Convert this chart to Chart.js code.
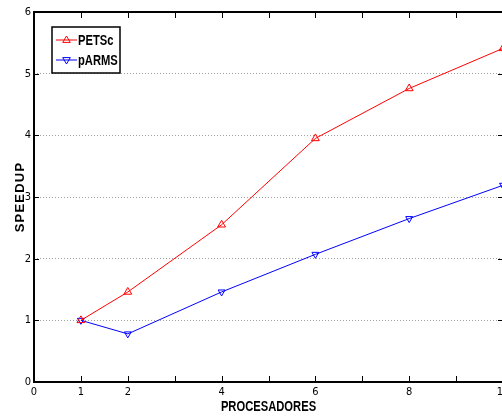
<!DOCTYPE html>
<html>
<head>
<meta charset="utf-8">
<script src="https://cdn.jsdelivr.net/npm/chart.js@4"></script>
<style>
  html, body { margin: 0; padding: 0; background: #fff; overflow: hidden; }
  #wrap { position: absolute; left: 0; top: 0; width: 520px; height: 417px; }
</style>
</head>
<body>
<div id="wrap"><canvas id="speedup" width="520" height="417"></canvas></div>
<script>
const procesadores = [1, 2, 4, 6, 8, 10];
const petsc = [1.0, 1.46, 2.55, 3.95, 4.76, 5.41];
const parms = [1.0, 0.78, 1.46, 2.07, 2.65, 3.19];
const xTickLabels = [0, 1, 2, 4, 6, 8, 10];
const yTickLabels = [0, 1, 2, 3, 4, 5, 6];

const narrow = "'Liberation Sans Narrow', 'DejaVu Sans Condensed', sans-serif";
const helv = "'Liberation Sans', Arial, sans-serif";

function triangle(ctx, x, y, r, down) {
    const s = down ? -1 : 1;
    ctx.beginPath();
    ctx.moveTo(x, y - s * r);
    ctx.lineTo(x - r * 0.95, y + s * r * 0.6);
    ctx.lineTo(x + r * 0.95, y + s * r * 0.6);
    ctx.closePath();
    ctx.stroke();
}

// squeezed bold text, the figure uses a narrow helvetica
function narrowText(ctx, txt, x, y, size, align, sx) {
    ctx.save();
    ctx.translate(x, y);
    ctx.scale(sx, 1);
    ctx.font = 'bold ' + size + 'px ' + helv;
    ctx.textAlign = align;
    ctx.textBaseline = 'middle';
    ctx.fillStyle = '#000';
    ctx.fillText(txt, 0, 0);
    ctx.restore();
}

// frame, inward tick marks, axis titles and boxed legend, like the matlab figure
const framePlugin = {
    id: 'frame',
    afterDraw(chart) {
        const ctx = chart.ctx;
        const a = chart.chartArea;
        const xs = chart.scales.x, ys = chart.scales.y;
        ctx.save();
        ctx.strokeStyle = '#000';
        ctx.lineWidth = 1;
        xs.ticks.forEach(t => {
            const px = Math.round(xs.getPixelForValue(t.value)) + 0.5;
            ctx.beginPath();
            ctx.moveTo(px, a.bottom); ctx.lineTo(px, a.bottom - 6);
            ctx.moveTo(px, a.top); ctx.lineTo(px, a.top + 6);
            ctx.stroke();
        });
        ys.ticks.forEach(t => {
            const py = Math.round(ys.getPixelForValue(t.value)) + 0.5;
            ctx.beginPath();
            ctx.moveTo(a.left, py); ctx.lineTo(a.left + 5, py);
            ctx.moveTo(a.right, py); ctx.lineTo(a.right - 5, py);
            ctx.stroke();
        });
        ctx.lineWidth = 2;
        ctx.strokeRect(a.left, a.top, a.right - a.left, a.bottom - a.top);

        // axis titles
        narrowText(ctx, xs.options.title.text, (a.left + a.right) / 2, 407, 14, 'center', 0.8);
        ctx.save();
        ctx.translate(20, (a.top + a.bottom) / 2);
        ctx.rotate(-Math.PI / 2);
        ctx.font = 'bold 13px ' + helv;
        ctx.letterSpacing = '1.2px';
        ctx.textAlign = 'center';
        ctx.textBaseline = 'middle';
        ctx.fillStyle = '#000';
        ctx.fillText(ys.options.title.text, 0, 0);
        ctx.restore();

        // legend
        const bx = 52, by = 27, bw = 68, bh = 46;
        ctx.fillStyle = '#fff';
        ctx.fillRect(bx, by, bw, bh);
        ctx.lineWidth = 1.5;
        ctx.strokeStyle = '#000';
        ctx.strokeRect(bx, by, bw, bh);
        chart.data.datasets.forEach((ds, i) => {
            const y = by + 13 + i * 20;
            ctx.strokeStyle = ds.borderColor;
            ctx.lineWidth = 1;
            ctx.beginPath();
            ctx.moveTo(bx + 4, y); ctx.lineTo(bx + 25, y);
            ctx.stroke();
            triangle(ctx, bx + 14.5, y, 4, ds.pointRotation === 180);
            narrowText(ctx, ds.label, bx + 26, y + 1, 14, 'left', 0.8);
        });
        ctx.restore();
    }
};

const ctx = document.getElementById('speedup');

new Chart(ctx, {
    type: 'line',
    data: {
        labels: procesadores,
        datasets: [
            {
                label: 'PETSc',
                data: procesadores.map((p, i) => ({ x: p, y: petsc[i] })),
                borderColor: '#ff0000',
                borderWidth: 1,
                pointStyle: 'triangle',
                pointRadius: 4.5,
                pointBorderWidth: 1,
                pointBackgroundColor: 'rgba(0,0,0,0)',
                pointBorderColor: '#ff0000',
                fill: false,
                tension: 0
            },
            {
                label: 'pARMS',
                data: procesadores.map((p, i) => ({ x: p, y: parms[i] })),
                borderColor: '#0000ff',
                borderWidth: 1,
                pointStyle: 'triangle',
                pointRotation: 180,
                pointRadius: 4,
                pointBorderWidth: 1,
                pointBackgroundColor: 'rgba(0,0,0,0)',
                pointBorderColor: '#0000ff',
                fill: false,
                tension: 0
            }]
    },
    options: {
        responsive: false,
        animation: false,
        devicePixelRatio: 1,
        layout: { padding: { top: 12, right: 17, left: 0, bottom: 0 } },
        plugins: { legend: { display: false }, tooltip: { enabled: false } },
        scales: {
            x: {
                type: 'linear',
                min: 0,
                max: 10,
                afterFit: (s) => { s.height = 35; },
                ticks: {
                    stepSize: 1,
                    padding: 4,
                    maxRotation: 0,
                    autoSkip: false,
                    color: '#000',
                    font: { family: narrow, size: 11 },
                    callback: (v) => xTickLabels.includes(v) ? String(v) : ''
                },
                grid: { display: false, drawTicks: false },
                border: { display: false },
                title: { display: false, text: 'PROCESADORES' }
            },
            y: {
                min: 0,
                max: 6,
                afterFit: (s) => { s.width = 34; },
                ticks: {
                    stepSize: 1,
                    padding: 3,
                    color: '#000',
                    font: { family: narrow, size: 11 },
                    callback: (v) => yTickLabels.includes(v) ? String(v) : ''
                },
                grid: { color: '#a0a0a0', lineWidth: 1, drawTicks: false },
                border: { display: false, dash: [1, 2] },
                title: { display: false, text: 'SPEEDUP' }
            }
        }
    },
    plugins: [framePlugin]
});
</script>
</body>
</html>
